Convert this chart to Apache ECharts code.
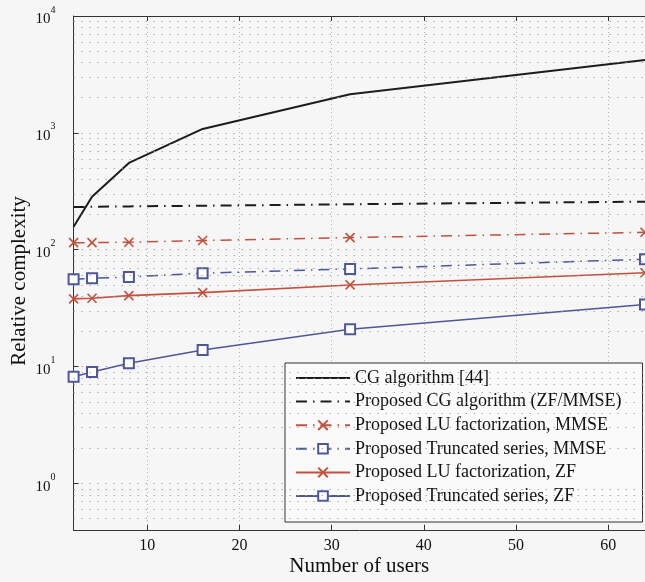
<!DOCTYPE html>
<html>
<head>
<meta charset="utf-8">
<script src="https://cdn.jsdelivr.net/npm/echarts@6/dist/echarts.min.js"></script>
<style>
  html, body { margin: 0; padding: 0; background: #f6f6f6; }
  #chart { width: 645px; height: 582px; }
</style>
</head>
<body>
<div id="chart"></div>
<script>
// Number of users K
const users = [2, 4, 8, 16, 32, 64];

// Relative complexity of each detector
const cgRef      = [157, 284, 553, 1080, 2140, 4200];
const cgProposed = [232, 233, 235, 238, 245, 258];
const luMmse     = [115, 115, 116, 120, 127, 141];
const tsMmse     = [56, 57, 58.5, 63, 68.5, 83];
const luZf       = [38, 38.5, 40.5, 43, 50, 63.5];
const tsZf       = [8.2, 9.0, 10.7, 13.9, 20.9, 34];

const seriesNames = [
  'CG algorithm [44]',
  'Proposed CG algorithm (ZF/MMSE)',
  'Proposed LU factorization, MMSE',
  'Proposed Truncated series, MMSE',
  'Proposed LU factorization, ZF',
  'Proposed Truncated series, ZF'
];

// y-axis range and minor (2..9 per decade) grid values
const yMin = 0.4, yMax = 10000;
const minorGrid = [];
for (let e = -1; e <= 3; e++) {
  for (let m = 2; m <= 9; m++) {
    const v = m * Math.pow(10, e);
    if (v > yMin && v < yMax) minorGrid.push(+v.toPrecision(3));
  }
}

const BLACK = '#1c1c1c', RED = '#c4503e', BLUE = '#4d5799';
const FONT = 'Liberation Serif';
const dashDot = [11, 6, 1.5, 6];
const crossPath = 'path://M0,0L10,10M10,0L0,10';

const pair = arr => users.map((u, i) => [u, arr[i]]);

// legend entries: the two plain CG curves show only their line
const legendData = seriesNames.map((name, i) =>
  i < 2 ? { name, itemStyle: { opacity: 0 } } : { name });

const chart = echarts.init(document.getElementById('chart'));
chart.setOption({
  animation: false,
  backgroundColor: '#f6f6f6',
  textStyle: { fontFamily: FONT, color: '#111' },
  grid: { left: 73.6, right: -7.3, top: 16, bottom: 52 },
  xAxis: [{
    type: 'value', min: 2, max: 64,
    name: 'Number of users', nameLocation: 'middle', nameGap: 26,
    nameMoveOverlap: false,
    nameTextStyle: { fontFamily: FONT, fontSize: 21, color: '#111' },
    axisLine: { lineStyle: { color: '#333', width: 1 } },
    axisTick: { inside: true, length: 5, lineStyle: { color: '#333' } },
    axisLabel: { fontFamily: FONT, fontSize: 16, color: '#111', margin: 8,
                 showMinLabel: false, showMaxLabel: false },
    splitLine: { show: true, lineStyle: { type: [1, 3], color: '#b5b5b5', width: 1 } }
  }, {
    type: 'value', min: 2, max: 64, position: 'top',
    axisLine: { show: true, lineStyle: { color: '#333', width: 1 } },
    axisTick: { inside: true, length: 5, lineStyle: { color: '#333' } },
    axisLabel: { show: false },
    splitLine: { show: false }
  }],
  yAxis: {
    type: 'log', logBase: 10, min: yMin, max: yMax,
    name: 'Relative complexity', nameLocation: 'middle', nameGap: 44,
    nameMoveOverlap: false,
    nameTextStyle: { fontFamily: FONT, fontSize: 21, color: '#111', padding: [0, 16, 0, 0] },
    axisLine: { show: true, lineStyle: { color: '#333', width: 1 } },
    axisTick: { inside: true, length: 5, lineStyle: { color: '#333' } },
    axisLabel: {
      showMinLabel: false, margin: 18,
      formatter: v => '{b|10}{s|' + Math.round(Math.log10(v)) + '}',
      rich: {
        b: { fontFamily: FONT, fontSize: 15, color: '#111', lineHeight: 22, verticalAlign: 'bottom' },
        s: { fontFamily: FONT, fontSize: 10, color: '#111', lineHeight: 22, verticalAlign: 'top' }
      }
    },
    splitLine: { show: true, lineStyle: { type: [1.2, 6.8], color: '#9d9d9d', width: 1 } }
  },
  legend: {
    orient: 'vertical', left: 285, top: 363,
    padding: [5, 21, 16, 10],
    itemWidth: 54, itemHeight: 12, itemGap: 3.6,
    backgroundColor: '#fafafa', borderColor: '#333', borderWidth: 1,
    textStyle: { fontFamily: FONT, fontSize: 18, color: '#111', lineHeight: 20 },
    data: legendData
  },
  series: [
    {
      name: seriesNames[0], type: 'line', data: pair(cgRef),
      symbol: 'none',
      lineStyle: { color: BLACK, width: 2 }, itemStyle: { color: BLACK },
      markLine: {
        silent: true, symbol: ['none', 'none'], label: { show: false },
        lineStyle: { type: [1.2, 6.8], color: '#9d9d9d', width: 1 },
        data: minorGrid.map(v => ({ yAxis: v }))
      }
    },
    {
      name: seriesNames[1], type: 'line', data: pair(cgProposed),
      symbol: 'none',
      lineStyle: { color: BLACK, width: 2, type: dashDot }, itemStyle: { color: BLACK }
    },
    {
      name: seriesNames[2], type: 'line', data: pair(luMmse),
      symbol: crossPath, symbolSize: 9,
      lineStyle: { color: RED, width: 1.5, type: dashDot },
      itemStyle: { color: RED, borderColor: RED, borderWidth: 1.6 }
    },
    {
      name: seriesNames[3], type: 'line', data: pair(tsMmse),
      symbol: 'emptyRect', symbolSize: 10,
      lineStyle: { color: BLUE, width: 1.5, type: dashDot },
      itemStyle: { color: BLUE, borderColor: BLUE, borderWidth: 1.4 }
    },
    {
      name: seriesNames[4], type: 'line', data: pair(luZf),
      symbol: crossPath, symbolSize: 9,
      lineStyle: { color: RED, width: 1.6 },
      itemStyle: { color: RED, borderColor: RED, borderWidth: 1.6 }
    },
    {
      name: seriesNames[5], type: 'line', data: pair(tsZf),
      symbol: 'emptyRect', symbolSize: 10,
      lineStyle: { color: BLUE, width: 1.5 },
      itemStyle: { color: BLUE, borderColor: BLUE, borderWidth: 1.4 }
    }
  ]
});
</script>
</body>
</html>
